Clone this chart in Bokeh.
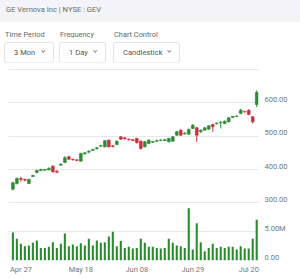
import pandas as pd
from bokeh.plotting import figure
from bokeh.models import Div, Range1d, FixedTicker, ColumnDataSource, NumeralTickFormatter, LinearAxis
from bokeh.layouts import column
from bokeh.embed import file_html
from bokeh.resources import INLINE

# ---------------- data ----------------
title_text = "GE Vernova Inc | NYSE : GEV"
control_labels = ["Time Period", "Frequency", "Chart Control"]
control_values = ["3 Mon", "1 Day", "Candlestick"]

dates = [
    "2025-04-23", "2025-04-24", "2025-04-25", "2025-04-28", "2025-04-29", "2025-04-30",
    "2025-05-01", "2025-05-02", "2025-05-05", "2025-05-06", "2025-05-07", "2025-05-08",
    "2025-05-09", "2025-05-12", "2025-05-13", "2025-05-14", "2025-05-15", "2025-05-16",
    "2025-05-19", "2025-05-20", "2025-05-21", "2025-05-22", "2025-05-23", "2025-05-27",
    "2025-05-28", "2025-05-29", "2025-05-30", "2025-06-02", "2025-06-03", "2025-06-04",
    "2025-06-05", "2025-06-06", "2025-06-09", "2025-06-10", "2025-06-11", "2025-06-12",
    "2025-06-13", "2025-06-16", "2025-06-17", "2025-06-18", "2025-06-20", "2025-06-23",
    "2025-06-24", "2025-06-25", "2025-06-26", "2025-06-27", "2025-06-30", "2025-07-01",
    "2025-07-02", "2025-07-03", "2025-07-07", "2025-07-08", "2025-07-09", "2025-07-10",
    "2025-07-11", "2025-07-14", "2025-07-15", "2025-07-16", "2025-07-17", "2025-07-18",
    "2025-07-21", "2025-07-22",
]
open_ = [341, 358, 373, 370, 358, 379, 391, 397, 398, 399, 410, 395, 413, 421, 438, 431,
         429, 425, 447, 452, 457, 462, 470, 468, 488, 471, 475, 498, 495, 491, 489, 493,
         485, 468, 478, 482, 485, 487, 487, 483, 485, 503, 518, 507, 506, 523, 525, 513,
         518, 521, 535, 537, 540, 538, 543, 556, 559, 568, 574, 578, 558, 595]
high = [363, 376, 378, 372, 372, 384, 399, 402, 402, 406, 412, 397, 418, 440, 441, 432,
        430, 450, 452, 458, 462, 467, 474, 488, 490, 473, 487, 500, 497, 493, 491, 495,
        487, 485, 490, 486, 490, 491, 492, 495, 500, 516, 520, 512, 523, 536, 528, 520,
        527, 533, 537, 541, 545, 547, 557, 561, 563, 582, 576, 580, 560, 637]
low = [337, 355, 363, 364, 356, 377, 389, 395, 396, 397, 391, 389, 411, 419, 429, 427,
       425, 424, 445, 450, 455, 460, 468, 466, 466, 466, 473, 489, 490, 487, 485, 478,
       460, 466, 476, 480, 482, 485, 485, 481, 483, 501, 501, 504, 504, 521, 483, 510,
       516, 519, 513, 535, 523, 536, 541, 554, 557, 566, 570, 563, 538, 587]
close = [360, 373, 370, 368, 370, 382, 397, 400, 400, 404, 393, 392, 416, 435, 431, 429,
         427, 448, 450, 455, 460, 465, 471, 486, 468, 469, 485, 491, 492, 489, 487, 480,
         463, 483, 488, 484, 486, 488, 489, 493, 498, 513, 503, 509, 520, 533, 503, 518,
         525, 531, 528, 539, 541, 545, 555, 559, 560, 578, 573, 565, 543, 631]
volume_m = [4.9, 3.8, 2.9, 2.5, 2.6, 3.1, 3.5, 2.2, 2.2, 2.4, 3.2, 2.2, 2.9, 4.7, 2.5, 2.8,
            2.5, 3.0, 2.6, 3.8, 2.6, 3.5, 3.1, 3.2, 4.2, 5.0, 2.5, 3.4, 2.2, 2.4, 2.1, 2.2,
            3.8, 3.1, 2.4, 2.4, 2.2, 2.1, 2.2, 3.8, 3.1, 2.6, 2.5, 2.2, 9.1, 1.9, 6.5, 3.2,
            1.6, 2.2, 2.9, 2.2, 2.4, 2.2, 2.4, 2.4, 1.9, 2.5, 2.1, 2.1, 3.8, 7.1]
tick_dates = ["2025-04-27", "2025-05-18", "2025-06-08", "2025-06-29", "2025-07-20"]
tick_labels = ["Apr 27", "May 18", "Jun 08", "Jun 29", "Jul 20"]
price_ticks = [300, 400, 500, 600, 700]
volume_ticks = [0, 5]
volume_tick_labels = ["0.00", "5.00M"]

# ---------------- style ----------------
FONT = "Roboto"
GREEN = "#2e8b34"
RED = "#c9303c"
VOL_GREEN = "#2b8a2f"
GRID = "#e8e8e8"
AXIS_TXT = "#777777"
PRICE_LO, PRICE_HI = 288.9, 720.9
VOL_LO, VOL_HI = 0, 9.41
LABEL_LIFT_PX = 3.3  # tick labels sit slightly above their grid lines

dt = pd.to_datetime(pd.Series(dates))
x = list(range(len(dates)))
tick_pos = [int(dt.searchsorted(pd.Timestamp(t))) - 1 for t in tick_dates]

colors = [GREEN if c >= o else RED for o, c in zip(open_, close)]
src = ColumnDataSource(dict(
    x=x, open=open_, high=high, low=low, close=close,
    top=[max(o, c) for o, c in zip(open_, close)],
    bottom=[min(o, c) for o, c in zip(open_, close)],
    color=colors, vol=volume_m,
))

xr = Range1d(-1.1, 61.45)

# ---------------- header / controls ----------------
header = Div(
    text=f'<div style="width:300px;height:22px;background:#f4f4f6;font-family:{FONT};'
         f'font-size:7.6px;color:#6a6a6a;line-height:20px;padding-left:6px;box-sizing:border-box;">'
         f'{title_text}</div>',
    width=300, height=22, margin=(0, 0, 0, 0),
)

box_left = [4, 59, 113]
box_width = [50, 47, 67]
parts = ['<div style="position:relative;width:300px;height:40px;background:#ffffff;'
         f'font-family:{FONT};">']
for lab, val, bl, bw in zip(control_labels, control_values, box_left, box_width):
    parts.append(
        f'<div style="position:absolute;left:{bl + 1}px;top:8px;font-size:7.4px;color:#666;'
        f'line-height:10px;white-space:nowrap;">{lab}</div>'
        f'<div style="position:absolute;left:{bl}px;top:20px;width:{bw}px;height:21px;'
        f'box-sizing:border-box;border:1px solid #e3e3e3;border-radius:3px;'
        f'box-shadow:0 1px 1px rgba(0,0,0,0.04);">'
        f'<span style="position:absolute;left:9px;top:5px;font-size:7.6px;color:#555;'
        f'line-height:10px;white-space:nowrap;">{val}</span>'
        f'<span style="position:absolute;right:9px;top:6px;width:2.5px;height:2.5px;'
        f'border-right:1px solid #888;border-bottom:1px solid #888;transform:rotate(45deg);"></span>'
        f'</div>'
    )
parts.append('</div>')
controls = Div(text="".join(parts), width=300, height=40, margin=(0, 0, 0, 0))


def style_axis(ax):
    ax.axis_line_color = None
    ax.major_tick_line_color = None
    ax.minor_tick_line_color = None
    ax.major_tick_out = 0
    ax.major_tick_in = 0
    ax.major_label_text_font = FONT
    ax.major_label_text_font_size = "7.5px"
    ax.major_label_text_color = AXIS_TXT


# ---------------- price chart ----------------
FRAME_P = 144
p = figure(width=300, height=FRAME_P, x_range=xr, y_range=Range1d(PRICE_LO, PRICE_HI),
           output_backend="svg", toolbar_location=None, x_axis_location=None,
           y_axis_location=None, min_border_left=8, min_border_right=42,
           min_border_top=0, min_border_bottom=0, outline_line_color=None,
           background_fill_color="white", border_fill_color="white")
p.segment(x0="x", y0="low", x1="x", y1="high", color="color", line_width=1, source=src)
p.vbar(x="x", width=0.7, top="top", bottom="bottom", fill_color="color",
       line_color="color", line_width=0.6, source=src)
p.xgrid.visible = False
p.ygrid.grid_line_color = GRID
p.ygrid.ticker = FixedTicker(ticks=price_ticks)
# axis labels drawn on a range shifted by a few pixels so they sit just above the grid lines
shift_p = LABEL_LIFT_PX * (PRICE_HI - PRICE_LO) / FRAME_P
p.extra_y_ranges = {"lab": Range1d(PRICE_LO - shift_p, PRICE_HI - shift_p)}
pax = LinearAxis(y_range_name="lab", ticker=FixedTicker(ticks=price_ticks),
                 formatter=NumeralTickFormatter(format="0.00"))
pax.major_label_overrides = {price_ticks[-1]: ""}
style_axis(pax)
pax.major_label_standoff = 6
p.add_layout(pax, "right")

# ---------------- volume chart ----------------
FRAME_V = 54
v = figure(width=300, height=73, x_range=xr, y_range=Range1d(VOL_LO, VOL_HI),
           output_backend="svg", toolbar_location=None, y_axis_location=None,
           min_border_left=8, min_border_right=42, min_border_top=0, min_border_bottom=19,
           outline_line_color=None, background_fill_color="white", border_fill_color="white")
v.vbar(x="x", width=0.52, top="vol", bottom=0, fill_color=VOL_GREEN,
       line_color=None, source=src)
v.xgrid.visible = False
v.ygrid.grid_line_color = GRID
v.ygrid.ticker = FixedTicker(ticks=[volume_ticks[1]])
shift_v = LABEL_LIFT_PX * (VOL_HI - VOL_LO) / FRAME_V
v.extra_y_ranges = {"lab": Range1d(VOL_LO - shift_v, VOL_HI - shift_v)}
vax = LinearAxis(y_range_name="lab", ticker=FixedTicker(ticks=volume_ticks))
vax.major_label_overrides = {t: l for t, l in zip(volume_ticks, volume_tick_labels)}
style_axis(vax)
vax.major_label_standoff = 6
v.add_layout(vax, "right")

v.xaxis.ticker = FixedTicker(ticks=tick_pos)
v.xaxis.major_label_overrides = {t: l for t, l in zip(tick_pos, tick_labels)}
style_axis(v.xaxis[0])
v.xaxis.major_label_standoff = 4

layout = column(header, controls, p, v, spacing=0, margin=(0, 0, 0, 0))

open("out.html", "w").write(file_html(layout, INLINE))
